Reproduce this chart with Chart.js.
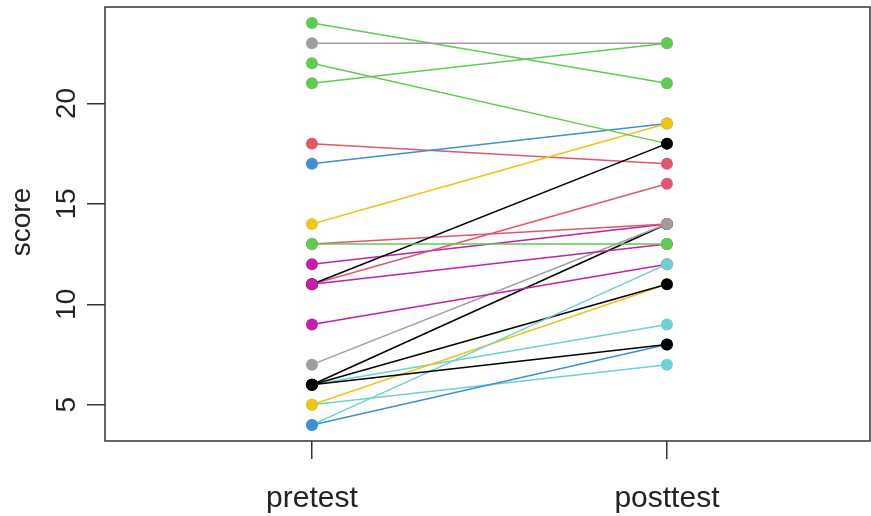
<!DOCTYPE html>
<html>
<head>
<meta charset="utf-8">
<script src="https://cdn.jsdelivr.net/npm/chart.js@4.4.1/dist/chart.umd.min.js"></script>
<style>
  html, body { margin: 0; padding: 0; background: #fff; }
  #wrap { width: 871px; height: 516px; }
</style>
</head>
<body>
<div id="wrap"><canvas id="chart" width="871" height="516"></canvas></div>
<script>
// paired scores, one entry per subject (first entry is drawn on top)
const pretest  = [6, 4, 4, 9, 6, 5, 5, 13, 11, 11, 11, 22, 7, 13, 12, 6, 21, 23, 14, 17, 24, 18, 6];
const posttest = [8, 8, 12, 12, 11, 11, 7, 13, 13, 18, 16, 18, 14, 14, 14, 14, 23, 23, 19, 19, 21, 17, 9];
const subjectColors = [
  '#000000', '#3E8FD3', '#6DD0D2', '#C41FA9', '#000000', '#F2C314', '#6DD0D2', '#5FCB52',
  '#C41FA9', '#000000', '#E0566C', '#5FCB52', '#9E9E9E', '#E0566C', '#C41FA9', '#000000',
  '#5FCB52', '#9E9E9E', '#F2C314', '#3E8FD3', '#5FCB52', '#E0566C', '#6DD0D2'
];
const timeLabels = ['pretest', 'posttest'];
const yTicks = [5, 10, 15, 20];
const yTitle = 'score';

const axisColor = '#333333';
const textColor = '#222222';

// points first so they sit above every line
const pointSets = pretest.map((p, i) => ({
  data: [{ x: 1, y: p }, { x: 2, y: posttest[i] }],
  showLine: false,
  pointRadius: 6,
  pointHoverRadius: 6,
  pointBorderWidth: 0,
  pointBackgroundColor: subjectColors[i],
  borderColor: subjectColors[i]
}));
const lineSets = pretest.map((p, i) => ({
  data: [{ x: 1, y: p }, { x: 2, y: posttest[i] }],
  showLine: true,
  borderWidth: 1.5,
  borderColor: subjectColors[i],
  pointRadius: 0,
  pointHoverRadius: 0
}));

const boxAndLabels = {
  id: 'boxAndLabels',
  afterDraw(chart) {
    const { ctx, chartArea: a } = chart;
    const y = chart.scales.y;
    ctx.save();
    ctx.strokeStyle = axisColor;
    ctx.lineWidth = 1.5;
    ctx.strokeRect(a.left, a.top, a.right - a.left, a.bottom - a.top);
    // rotated y tick labels, like R's default las=0
    ctx.fillStyle = textColor;
    ctx.font = '28px "Liberation Sans", Arial, sans-serif';
    ctx.textAlign = 'center';
    ctx.textBaseline = 'middle';
    yTicks.forEach(v => {
      ctx.save();
      ctx.translate(67, y.getPixelForValue(v));
      ctx.rotate(-Math.PI / 2);
      ctx.fillText(String(v), 0, 0);
      ctx.restore();
    });
    ctx.save();
    ctx.translate(22, 222);
    ctx.rotate(-Math.PI / 2);
    ctx.fillText(yTitle, 0, 0);
    ctx.restore();
    ctx.restore();
  }
};

new Chart(document.getElementById('chart'), {
  type: 'line',
  data: { datasets: pointSets.concat(lineSets) },
  options: {
    responsive: false,
    animation: false,
    layout: { autoPadding: false, padding: { top: 7, right: 1, left: 0, bottom: 0 } },
    plugins: {
      legend: { display: false },
      tooltip: { enabled: false },
      title: { display: false }
    },
    scales: {
      x: {
        type: 'linear',
        min: 0.417,
        max: 2.572,
        afterBuildTicks: scale => { scale.ticks = [{ value: 1 }, { value: 2 }]; },
        afterFit: scale => { scale.height = 75; },
        grid: { drawOnChartArea: false, drawTicks: true, tickLength: 18, color: axisColor, lineWidth: 1.5 },
        border: { display: false },
        ticks: {
          padding: 22,
          color: textColor,
          font: { family: '"Liberation Sans", Arial, sans-serif', size: 30 },
          maxRotation: 0,
          callback: v => timeLabels[v - 1]
        }
      },
      y: {
        type: 'linear',
        min: 3.2,
        max: 24.8,
        afterBuildTicks: scale => { scale.ticks = yTicks.map(v => ({ value: v })); },
        afterFit: scale => { scale.width = 105; },
        grid: { drawOnChartArea: false, drawTicks: true, tickLength: 18, color: axisColor, lineWidth: 1.5 },
        border: { display: false },
        ticks: { display: false }
      }
    }
  },
  plugins: [boxAndLabels]
});
</script>
</body>
</html>
